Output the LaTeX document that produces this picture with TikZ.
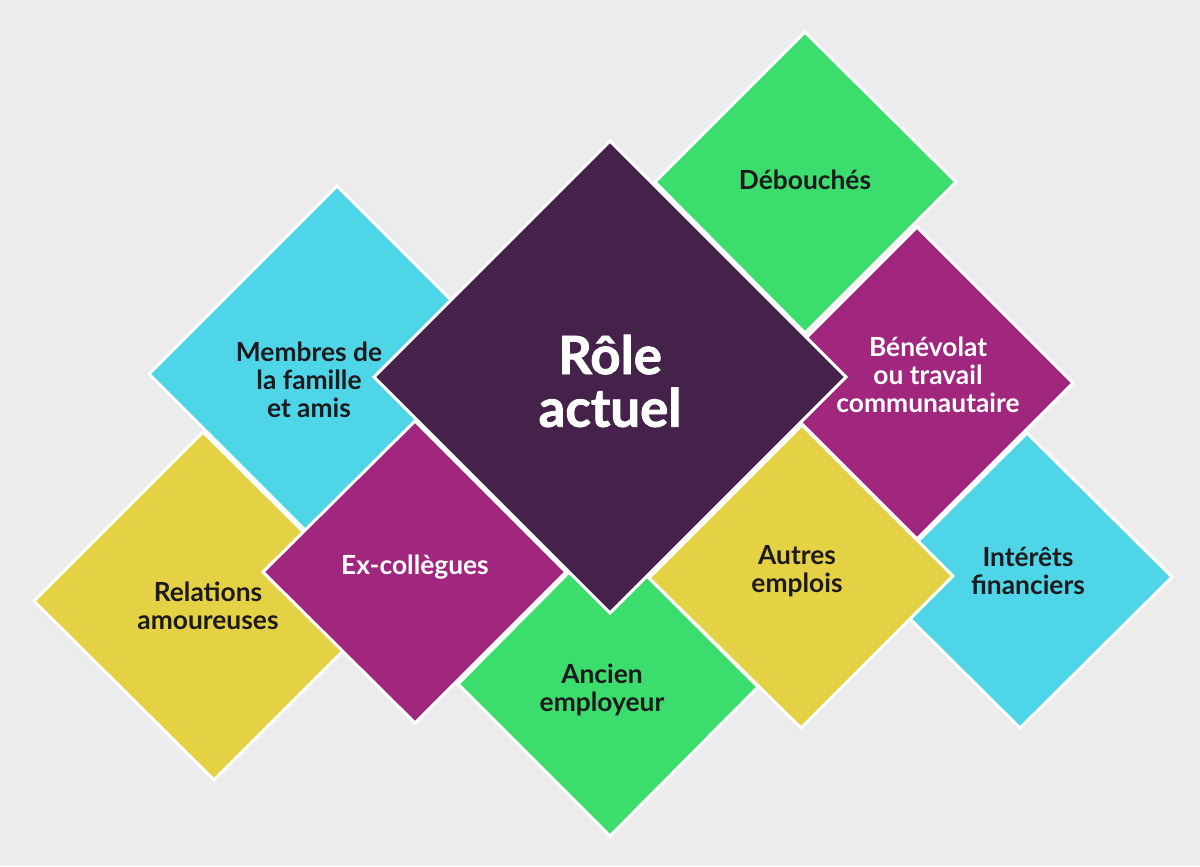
\documentclass[tikz,border=0pt]{standalone}
\usepackage{fontspec}
\setmainfont{Lato}
\usepackage{tikz}

\definecolor{bgGrey}{HTML}{ECECEC}
\definecolor{tileCyan}{HTML}{4ED5E8}
\definecolor{tileGreen}{HTML}{3BDE6C}
\definecolor{tileYellow}{HTML}{E5D244}
\definecolor{tileMagenta}{HTML}{A0267E}
\definecolor{tilePurple}{HTML}{45224A}
\definecolor{inkDark}{HTML}{1C1A1C}

\tikzset{
  tile/.style={draw=white, line width=1.7pt, line join=miter},
  lbl/.style={align=center, text=inkDark, font=\bfseries\fontsize{15}{16}\selectfont},
  lblw/.style={lbl, text=white}
}

\begin{document}
\begin{tikzpicture}[x=0.02cm, y=-0.02cm]
\fill[bgGrey] (0,0) rectangle (1200,866);
\useasboundingbox (0,0) rectangle (1200,866);
% tiles, from back to front
\filldraw[tile, fill=tileYellow] (203,432) -- (34,601) -- (214,780) -- (383,611) -- cycle;
\filldraw[tile, fill=tileCyan] (337,186) -- (149,374) -- (337,562) -- (525,374) -- cycle;
\filldraw[tile, fill=tileMagenta] (415,421) -- (263,572) -- (415,723) -- (566,572) -- cycle;
\filldraw[tile, fill=tileCyan] (1027,433) -- (875,584) -- (1020,728) -- (1172,577) -- cycle;
\filldraw[tile, fill=tileMagenta] (917,227) -- (761,383) -- (917,539) -- (1073,383) -- cycle;
\filldraw[tile, fill=tileGreen] (805,32) -- (655,182) -- (805,333) -- (956,182) -- cycle;
\filldraw[tile, fill=tileGreen] (606,535) -- (458,684) -- (610,836) -- (758,687) -- cycle;
\filldraw[tile, fill=tileYellow] (802,425) -- (649,578) -- (801,728) -- (953,576) -- cycle;
\filldraw[tile, fill=tilePurple] (610,141) -- (374,377) -- (610,613) -- (846,377) -- cycle;
% labels
\node[lbl] (famille) at (309,380) {Membres de\\la famille\\et amis};
\node[lbl] (debouches) at (805,180) {Débouchés};
\node[lblw] (benevolat) at (928,375) {Bénévolat\\ou travail\\communautaire};
\node[lbl] (relations) at (208,606) {Relations\\amoureuses};
\node[lblw] (excoll) at (415,567) {Ex-collègues};
\node[lbl] (autres) at (797,571) {Autres\\emplois};
\node[lbl] (interets) at (1028,571) {Intérêts\\financiers};
\node[lbl] (ancien) at (602,690) {Ancien\\employeur};
\node[lblw, font=\bfseries\fontsize{30}{30}\selectfont\addfontfeatures{FakeBold=1.6}] (role) at (610,381) {Rôle\\actuel};
\end{tikzpicture}
\end{document}
